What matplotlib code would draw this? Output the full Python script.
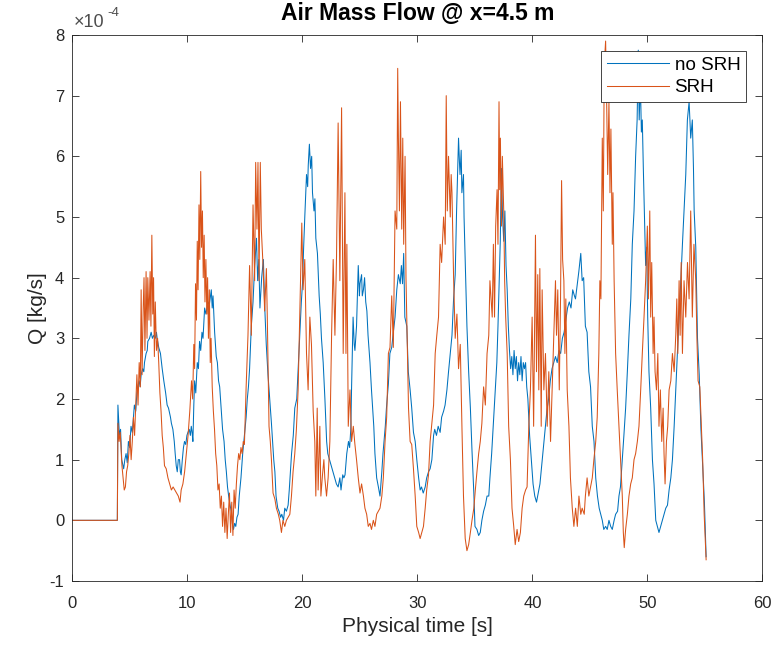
import numpy as np
import matplotlib
matplotlib.use("Agg")
from matplotlib import pyplot as plt
from matplotlib import ticker

plt.rcParams['font.family'] = ['Liberation Sans', 'DejaVu Sans']
plt.rcParams['axes.unicode_minus'] = False

# air mass flow readings, in units of 1e-4 kg/s
t_nosrh = [0, 3.9, 3.95, 4.08, 4.18, 4.28, 4.45, 4.55, 4.66, 4.76, 4.86, 4.97, 5.09, 5.2, 5.3, 5.38, 5.5, 5.6, 5.67, 5.8, 5.88, 5.97,
           6.1, 6.2, 6.26, 6.4, 6.5, 6.55, 6.7, 6.84, 6.95, 7.07, 7.2, 7.3, 7.36, 7.5, 7.65, 7.8, 7.94, 8.1, 8.23, 8.35, 8.52, 8.6,
           8.73, 8.85, 8.93, 9.02, 9.11, 9.2, 9.31, 9.38, 9.45, 9.55, 9.65, 9.74, 9.85, 9.95, 10.04, 10.15, 10.25, 10.33, 10.4, 10.47,
           10.55, 10.62, 10.72, 10.85, 10.95, 11.05, 11.15, 11.26, 11.35, 11.49, 11.6, 11.78, 11.9, 12.07, 12.15, 12.22, 12.36, 12.5,
           12.6, 12.7, 12.8, 12.94, 13.05, 13.18, 13.28, 13.38, 13.48, 13.58, 13.7, 13.81, 13.9, 14.0,
           14.1, 14.2, 14.3, 14.4, 14.5, 14.65, 14.8, 14.95, 15.1, 15.2, 15.3, 15.4, 15.55, 15.7, 15.84, 16.0, 16.1, 16.2, 16.3, 16.45,
           16.6, 16.7, 16.85, 17.0, 17.15, 17.3, 17.4, 17.5, 17.6, 17.7, 17.85, 17.96, 18.1, 18.2, 18.35, 18.46, 18.6, 18.75, 18.85,
           18.95, 19.05, 19.2, 19.33, 19.5, 19.6, 19.7, 19.8, 19.9, 20.0, 20.1, 20.2, 20.35, 20.45, 20.5, 20.6, 20.7, 20.8, 20.87, 21.0,
           21.08, 21.16, 21.3, 21.45, 21.55, 21.65, 21.8, 21.95, 22.1, 22.2, 22.35, 22.5, 22.65, 22.8, 22.95, 23.1, 23.25, 23.35, 23.5,
           23.6, 23.7, 23.85, 24.0, 24.1, 24.2, 24.27, 24.4, 24.5, 24.56, 24.7, 24.85, 24.95, 25.0, 25.14, 25.2, 25.3, 25.4, 25.5, 25.6,
           25.7, 25.87, 26.0, 26.2, 26.3, 26.45, 26.6, 26.74, 26.9, 27.0, 27.2, 27.3, 27.47, 27.6, 27.76, 27.9, 28.05, 28.2, 28.34, 28.5,
           28.6, 28.7, 28.8, 28.9, 29.07, 29.2, 29.36, 29.5, 29.65, 29.8, 29.94, 30.1, 30.23, 30.35, 30.5, 30.67, 30.8, 30.96, 31.1,
           31.25, 31.4, 31.5, 31.65, 31.8, 31.97, 32.1, 32.27, 32.4, 32.56, 32.7, 32.85, 33.0, 33.14, 33.28, 33.4, 33.5, 33.57, 33.65,
           33.7, 33.8, 33.86, 34.0, 34.05, 34.15,
           34.3, 34.45, 34.6, 34.74, 34.9, 35.0, 35.17, 35.32, 35.46, 35.6, 35.75, 35.9, 36.05, 36.2, 36.3, 36.45, 36.6, 36.75, 36.9,
           37.0, 37.1, 37.2, 37.3, 37.4, 37.5, 37.6, 37.7, 37.8, 37.9, 38.0, 38.1, 38.2, 38.3, 38.4, 38.5, 38.6, 38.7, 38.8, 38.9, 39.0,
           39.1, 39.2, 39.3, 39.4, 39.5, 39.6, 39.75, 39.9, 40.05, 40.2, 40.35, 40.5, 40.65, 40.8, 40.95, 41.1, 41.25, 41.4, 41.55, 41.7,
           41.85, 42.0, 42.15, 42.3, 42.45, 42.6, 42.75, 42.9, 43.05, 43.2, 43.35, 43.5, 43.65,
           43.74, 43.9, 44.03, 44.2, 44.32, 44.45, 44.6, 44.75, 44.9, 45.05, 45.2, 45.35, 45.5, 45.65, 45.8, 46.07, 46.2, 46.36, 46.5,
           46.65, 46.8, 46.94, 47.1, 47.23, 47.4, 47.52, 47.65, 47.81, 47.95, 48.1, 48.25, 48.39, 48.55, 48.68, 48.83, 48.97, 49.1,
           49.2, 49.28, 49.38, 49.47, 49.55, 49.64, 49.73, 49.84, 49.93, 50.02, 50.13, 50.28, 50.43, 50.57, 50.72, 50.86, 51.0, 51.15,
           51.3, 51.45, 51.59, 51.74, 51.88, 52.03, 52.17, 52.32, 52.46, 52.6, 52.75, 52.9, 53.04, 53.18, 53.33, 53.47, 53.62, 53.76,
           53.9, 54.0, 54.06, 54.2, 54.35, 54.5, 54.65, 54.8, 54.95, 55.1]
q_nosrh = [0, 0, 1.9, 1.4, 1.5, 1.0, 0.85, 1.0, 1.1, 0.95, 1.3, 1.2, 1.55, 1.45, 1.7, 1.9, 1.8, 2.1, 2.2, 2.3, 2.2, 2.4,
           2.5, 2.45, 2.6, 2.75, 2.8, 2.95, 3.0, 3.1, 3.0, 3.05, 3.0, 3.1, 3.0, 2.85, 2.75, 2.5, 2.3, 2.1, 1.9, 1.85, 1.7, 1.6,
           1.5, 1.3, 1.1, 0.9, 0.8, 1.0, 1.0, 0.8, 0.75, 1.0, 1.2, 1.3, 1.25, 1.4, 1.45, 1.5, 1.4, 1.55, 1.45, 1.3,
           1.9, 2.3, 2.1, 2.6, 2.5, 2.95, 2.8, 3.1, 3.0, 3.5, 3.4, 3.6, 3.55, 3.8, 3.5, 3.7, 3.1, 2.7,
           2.6, 2.3, 2.2, 1.8, 1.5, 1.3, 1.0, 0.8, 0.55, 0.4, 0.25, 0.15, -0.05, -0.15,
           -0.05, -0.1, 0.05, 0.1, 0.4, 0.7, 1.1, 1.4, 1.7, 2.0, 2.2, 2.5, 3.2, 3.6, 4.2, 4.65, 3.95, 4.3, 3.5, 4.0,
           4.3, 3.6, 2.9, 2.4, 2.0, 1.6, 1.3, 1.0, 0.8, 0.4, 0.2, 0.15, 0.05, 0.1, 0.0, 0.2, 0.15, 0.25, 0.5,
           0.8, 1.1, 1.4, 1.85, 2.0, 2.4, 2.8, 3.2, 3.6, 3.9, 4.5, 5.0, 5.7, 5.5, 5.85, 6.2, 5.8, 6.0, 5.4, 5.1,
           5.3, 4.65, 4.4, 3.7, 3.4, 3.0, 2.6, 2.0, 1.3, 1.1, 1.0, 0.9, 0.8, 0.7, 0.6, 0.55, 0.7, 0.5, 0.75,
           0.7, 0.75, 1.1, 1.3, 1.2, 1.5, 2.2, 3.35, 2.9, 2.8, 3.2, 4.2, 3.7, 3.9, 4.05, 3.7, 3.8, 4.0, 3.6, 3.45,
           3.05, 2.6, 2.15, 1.55, 1.1, 0.7, 0.55, 0.4, 0.8, 1.1, 1.55, 1.85, 2.25, 2.75, 2.85, 3.1, 3.35, 3.8, 4.05, 3.9,
           4.2, 3.9, 4.4, 3.35, 3.2, 2.45, 2.15, 1.85, 1.45, 1.3, 1.0, 0.7, 0.5, 0.55, 0.45, 0.55, 0.7, 0.8, 0.85,
           1.0, 1.4, 1.5, 1.4, 1.55, 1.45, 1.7, 1.8, 1.9, 2.15, 2.45, 2.75, 3.05, 3.65, 4.05, 5.1, 5.8, 6.3, 5.9,
           5.7, 6.1, 5.4, 5.7, 5.0, 4.3,
           3.2, 2.45, 1.85, 1.15, 0.45, -0.1, -0.15, -0.25, -0.2, 0.0, 0.15, 0.25, 0.4, 0.4, 0.7, 1.1, 1.6, 2.1, 2.6,
           3.2, 3.9, 4.6, 5.8, 5.0, 4.6, 5.1, 4.2, 3.8, 3.2, 2.8, 2.5, 2.7, 2.4, 2.8, 2.5, 2.7, 2.3, 2.6, 2.4, 2.7,
           2.3, 2.6, 2.5, 2.6, 2.2, 2.0, 1.4, 1.0, 0.6, 0.4, 0.3, 0.45, 0.6, 0.9, 1.2, 1.5, 1.8, 2.0, 2.3, 2.5,
           2.6, 2.7, 2.6, 2.8, 2.75, 3.0, 3.1, 3.3, 3.5, 3.6, 3.5, 3.8, 3.7,
           3.65, 3.9, 4.1, 4.4, 3.95, 4.0, 3.2, 3.1, 2.45, 2.2, 1.55, 1.3, 0.7, 0.4, 0.2, 0.0, -0.15, -0.1, -0.15,
           0.0, -0.1, -0.15, 0.0, 0.1, 0.15, 0.4, 0.55, 1.0, 1.4, 1.85, 2.45, 3.05, 3.65, 4.55, 5.1, 6.0, 6.6,
           7.75, 6.6, 7.25, 6.4, 6.6, 5.8, 5.1, 4.2, 4.5, 3.35, 2.45, 1.85, 1.0, 0.6, 0.0, -0.1, -0.2, -0.1,
           0.0, 0.1, 0.2, 0.25, 0.5, 0.7, 1.0, 1.55, 2.15, 2.75, 3.35, 3.95, 4.55, 5.1, 5.7, 6.6, 6.9, 6.3,
           6.6, 5.8, 5.1, 4.5, 3.0, 2.4, 1.5, 0.9, 0.3, -0.6]

t_srh = [0, 3.9, 3.95, 4.05, 4.15, 4.3, 4.4, 4.5, 4.6, 4.7, 4.8, 4.9, 5.0, 5.1, 5.2, 5.3, 5.4, 5.5, 5.6, 5.7, 5.8, 5.9, 5.97,
         6.05, 6.15, 6.22, 6.3, 6.4, 6.48, 6.55, 6.65, 6.75, 6.82, 6.9, 6.98, 7.05, 7.12, 7.2, 7.3, 7.4, 7.5, 7.6, 7.7, 7.8, 7.9,
         8.0, 8.15, 8.3, 8.45, 8.6, 8.75, 8.9, 9.05, 9.2, 9.35, 9.45, 9.6, 9.75, 9.9, 10.05, 10.2, 10.35, 10.45, 10.55, 10.62, 10.7,
         10.78, 10.85, 10.92, 11.0, 11.07, 11.15, 11.22, 11.3, 11.37, 11.45, 11.52, 11.6, 11.68, 11.75, 11.82, 11.9, 11.98, 12.05,
         12.15, 12.25, 12.35, 12.45, 12.55, 12.65, 12.75, 12.85, 12.95, 13.05, 13.15, 13.25, 13.35, 13.45, 13.55, 13.65, 13.75,
         13.85, 13.95, 14.05, 14.15, 14.25, 14.35, 14.45, 14.55, 14.65, 14.75, 14.85, 14.95,
         15.1, 15.26, 15.4, 15.55, 15.7, 15.84, 15.93, 16.04, 16.13, 16.22, 16.33, 16.42, 16.57, 16.71, 16.86, 16.94, 17.09, 17.2,
         17.3, 17.44, 17.6, 17.73, 17.9, 18.02, 18.17, 18.3, 18.46, 18.6, 18.75, 18.9, 19.04, 19.18, 19.33, 19.47, 19.62, 19.76,
         19.85, 19.94, 20.05, 20.2, 20.35, 20.49, 20.64, 20.78, 20.93, 21.07, 21.16, 21.28, 21.36, 21.51, 21.6, 21.74, 21.86, 21.94,
         22.09, 22.23, 22.38, 22.53, 22.67, 22.82, 22.96, 23.1, 23.25, 23.4, 23.54, 23.69, 23.78, 23.86, 23.98, 24.13, 24.27, 24.42,
         24.56, 24.7, 24.85, 25.0, 25.14, 25.3, 25.43, 25.58, 25.72, 25.87, 26.0, 26.16, 26.3, 26.45, 26.6, 26.74, 26.9, 27.03,
         27.18, 27.32, 27.47, 27.61, 27.76, 27.9, 28.05, 28.2, 28.28, 28.34, 28.43, 28.52, 28.63, 28.72, 28.8, 28.92, 29.0, 29.1,
         29.22, 29.36, 29.5, 29.65, 29.8, 29.94, 30.1, 30.23, 30.38, 30.52, 30.67, 30.8, 30.96, 31.1, 31.25, 31.4, 31.54, 31.68,
         31.83, 31.97, 32.1, 32.27, 32.41, 32.5, 32.59, 32.7, 32.85, 32.93, 33.0, 33.14, 33.28, 33.43, 33.57, 33.72, 33.87, 34.0,
         34.15, 34.3, 34.45, 34.6, 34.74, 34.9, 35.03, 35.17, 35.32, 35.46, 35.6, 35.75, 35.9, 36.05, 36.2, 36.3, 36.5, 36.6, 36.7,
         36.8, 36.92, 37.0, 37.09, 37.15, 37.21, 37.3, 37.38, 37.5, 37.58, 37.67, 37.8, 37.93, 38.08, 38.22, 38.37, 38.5, 38.66,
         38.8, 38.95, 39.1, 39.24, 39.4, 39.53, 39.68, 39.82, 39.97, 40.1, 40.26, 40.35, 40.46, 40.55, 40.64, 40.76, 40.84, 40.99,
         41.13, 41.28, 41.42, 41.57, 41.71, 41.86, 42.0, 42.09, 42.2, 42.33, 42.44, 42.53, 42.62, 42.73, 42.82, 42.9, 43.02, 43.17,
         43.3, 43.46, 43.6, 43.75, 43.9, 44.04, 44.2, 44.32, 44.5, 44.6, 44.75, 44.9, 45.05, 45.2, 45.34, 45.5, 45.63, 45.77, 45.86,
         45.95, 46.07, 46.16, 46.24, 46.36, 46.45, 46.54, 46.65, 46.74, 46.82, 46.94, 47.0, 47.1, 47.23, 47.37, 47.52, 47.66, 47.81,
         47.9, 47.98, 48.1, 48.25, 48.39, 48.54, 48.68, 48.83, 48.97, 49.12, 49.26, 49.41, 49.55, 49.7, 49.84, 49.99, 50.08, 50.2,
         50.28, 50.37, 50.49, 50.57, 50.66, 50.78, 50.9, 51.0, 51.12, 51.24, 51.36, 51.44, 51.53, 51.65, 51.76, 51.88, 52.03, 52.17,
         52.32, 52.46, 52.55, 52.64, 52.75, 52.84, 52.93, 53.04, 53.18, 53.33, 53.48, 53.62, 53.76, 53.9, 54.04, 54.2, 54.3, 54.4,
         54.55, 54.7, 54.8, 54.93, 55.1]
q_srh = [0, 0, 1.6, 1.3, 1.45, 0.9, 0.7, 0.5, 0.55, 0.8, 0.9, 1.1, 1.4, 1.0, 1.3, 1.7, 1.4, 1.9, 2.4, 1.9, 2.6, 2.2, 3.8,
         2.4, 3.5, 4.0, 2.8, 4.1, 3.0, 4.0, 3.3, 4.1, 3.2, 4.7, 3.4, 4.0, 2.7, 3.6, 2.8, 3.0, 2.6, 2.1, 1.8, 1.4, 1.2,
         0.9, 0.85, 0.7, 0.6, 0.5, 0.55, 0.5, 0.45, 0.4, 0.3, 0.5, 0.6, 0.8, 1.1, 1.4, 1.8, 2.3, 2.0, 2.9, 2.5, 3.9,
         3.3, 4.6, 3.8, 5.2, 4.3, 5.75, 4.5, 5.1, 4.0, 4.7, 3.6, 4.3, 3.4, 4.0, 3.0, 3.8, 2.6, 3.0,
         2.2, 1.8, 1.5, 1.1, 0.9, 0.5, 0.6, 0.2, 0.4, -0.1, 0.3, -0.2, 0.2, -0.3, 0.1, 0.45, -0.2,
         0.3, -0.25, 0.5, 0.2, 0.6, 0.9, 1.1, 1.0, 1.2, 1.1, 1.3, 1.25,
         2.2, 3.05, 4.2, 3.05, 5.2, 3.95, 5.9, 4.8, 5.9, 3.95, 5.9, 4.8, 4.2, 3.45, 4.15, 3.35, 1.55, 1.3,
         1.0, 0.45, 0.35, 0.2, 0.1, 0.0, -0.2, 0.0, -0.1, 0.0, 0.05, 0.1, 0.4, 0.8, 1.1, 1.5, 2.15, 3.35,
         4.2, 4.9, 3.8, 4.3, 2.75, 2.15, 3.35, 2.9, 1.8, 1.3, 0.4, 1.85, 0.5, 1.55, 0.4, 0.75, 1.0, 0.7,
         0.4, 0.7, 1.3, 3.05, 4.3, 3.05, 4.35, 6.55, 3.95, 6.8, 2.75, 5.4, 2.75, 4.55, 1.55, 2.15, 1.3, 1.55,
         1.25, 1.0, 0.7, 0.45, 0.6, 0.4, 0.2, 0.1, -0.1, -0.05, -0.15, 0.0, -0.1, 0.1, 0.15, 0.2, 0.4, 0.7,
         1.3, 1.7, 2.75, 2.85, 3.7, 2.85, 5.1, 4.8, 7.45, 6.3, 5.1, 6.9, 4.8, 6.3, 4.55, 6.0, 4.0, 3.05,
         1.85, 1.3, 1.25, 0.85, 0.4, -0.1, -0.2, -0.3, -0.2, -0.1, 0.2, 0.5, 0.75, 1.3, 1.6, 1.9, 2.75, 3.05,
         3.35, 4.55, 4.25, 5.0, 4.55, 7.0, 5.1, 6.0, 5.0, 5.7, 5.4, 4.0, 3.0, 3.4, 2.5, 2.9, 1.5, 0.4,
         -0.3, -0.5, -0.4, -0.2, 0.0, 0.2, 0.5, 0.8, 1.1, 1.3, 1.6, 2.2, 1.9, 2.75, 3.05, 3.95, 3.35, 4.55, 3.35,
         4.85, 5.45, 4.55, 6.9, 5.45, 6.3, 4.85, 6.0, 5.1, 3.95, 3.35, 2.75, 1.55, 1.0, 0.2, -0.1, -0.4, -0.15,
         -0.35, -0.2, 0.2, 0.4, 0.5, 0.55, 1.55, 2.15, 3.35, 1.55, 4.7, 2.45, 4.05, 2.15, 4.15, 1.55, 3.8, 2.15,
         2.75, 1.55, 2.45, 1.3, 2.15, 3.05, 3.95, 3.05, 3.8, 2.15, 3.65, 5.6, 4.3, 3.95, 2.75, 3.65, 2.15, 1.55,
         0.7, 0.2, -0.1, 0.2, -0.1, 0.4, 0.1, 0.2, 0.1, 0.4, 0.7, 0.4, 0.55, 0.7, 1.0, 1.3, 1.7, 2.75, 3.95,
         3.65, 6.3, 5.1, 7.5, 7.9, 6.9, 5.7, 6.9, 5.4, 6.45, 4.55, 5.4, 3.95, 2.75, 2.15, 1.55, 1.0, 0.4,
         -0.2, -0.45, -0.15, 0.1, 0.4, 0.6, 0.7, 1.0, 1.1, 1.3, 1.55, 2.15, 2.75, 3.35, 3.95, 4.85, 3.65, 5.1,
         3.35, 4.25, 2.75, 3.35, 2.45, 2.15, 2.75, 1.55, 2.15, 1.3, 1.85, 1.1, 0.6, 1.3, 1.55, 2.15, 2.3, 2.75,
         2.45, 3.05, 3.65, 2.75, 3.95, 3.05, 4.25, 2.75, 3.95, 3.35, 4.25, 3.65, 5.1, 3.35, 4.55, 3.95, 3.0, 2.3,
         2.2, 1.5, 1.0, 0.1, -0.65]

fig = plt.figure(figsize=(7.77, 6.48), dpi=100)
ax = fig.add_axes([0.0933, 0.1034, 0.888, 0.8426])

ax.plot(t_nosrh, np.array(q_nosrh) * 1e-4, color='#0072BD', lw=0.75, label='no SRH')
ax.plot(t_srh, np.array(q_srh) * 1e-4, color='#D95319', lw=0.75, label='SRH')

ax.set_xlim(0, 60)
ax.set_ylim(-1e-4, 8e-4)
ax.set_xticks(np.arange(0, 61, 10))
ax.set_yticks(np.arange(-1, 9) * 1e-4)
ax.yaxis.set_major_formatter(ticker.FuncFormatter(lambda v, p: '%d' % round(v * 1e4)))

dark = '#262626'
for s in ax.spines.values():
    s.set_color(dark)
    s.set_linewidth(0.6)
ax.tick_params(direction='in', length=5, width=0.6, colors=dark, labelsize=12,
               top=True, right=True)
ax.tick_params(axis='x', pad=11)
ax.tick_params(axis='y', pad=6)

# exponent label in the top left corner
ax.text(0.002, 1.007, '\u00d710', transform=ax.transAxes, fontsize=13, color='#4d4d4d',
        ha='left', va='bottom')
ax.text(0.05, 1.03, '-4', transform=ax.transAxes, fontsize=9.5, color='#4d4d4d',
        ha='left', va='bottom')

ax.set_xlabel('Physical time [s]', fontsize=15, color=dark)
ax.set_ylabel('Q [kg/s]', fontsize=15, color=dark, labelpad=2)
ax.set_title('Air Mass Flow @ x=4.5 m', fontsize=16.5, fontweight='bold', pad=11)

leg = ax.legend(loc='upper right', bbox_to_anchor=(0.976, 0.9707), borderaxespad=0,
                fontsize=13.5, handlelength=3.3, fancybox=False, framealpha=1,
                edgecolor=dark, borderpad=0.3, labelspacing=0.3, handletextpad=0.32)
leg.get_frame().set_linewidth(0.6)

fig.savefig('out.png', dpi=100)
